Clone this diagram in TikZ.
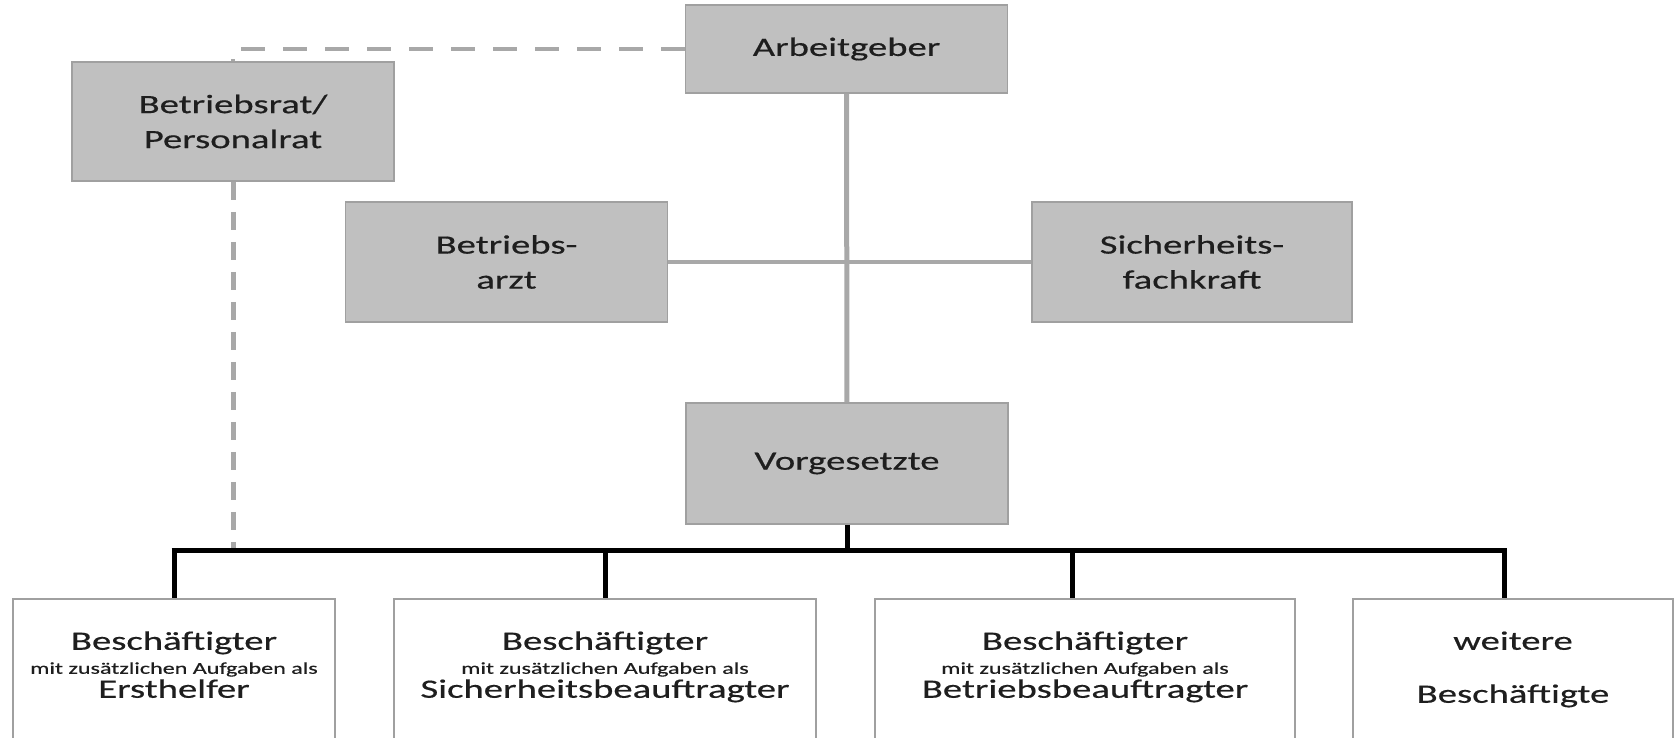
\documentclass[tikz,border=0pt]{standalone}
\usepackage{fontspec}
\setmainfont{Carlito}[FakeStretch=1.46,FakeBold=0.5]
\usepackage{tikz}
\usetikzlibrary{positioning}
\definecolor{boxgrey}{RGB}{192,192,192}
\definecolor{rimgrey}{RGB}{160,160,160}
\definecolor{linegrey}{RGB}{168,168,168}
\definecolor{txtgrey}{RGB}{30,30,30}
\newcommand{\klein}{\fontsize{16.5}{24}\selectfont}

\begin{document}
\begin{tikzpicture}[x=1pt,y=-1pt,font=\fontsize{26.5}{35}\selectfont,text=txtgrey,
  greybox/.style={draw=rimgrey,line width=1.5pt,fill=boxgrey,align=center,inner sep=0pt,minimum width=322pt},
  staff/.style={draw=rimgrey,line width=1.5pt,fill=white,align=center,inner sep=0pt,anchor=north,
    text height=99pt,text depth=60pt,font=\fontsize{26.5}{24}\selectfont},
  tree/.style={line width=5pt},
  link/.style={linegrey,line width=5pt},
  rep/.style={linegrey,line width=5pt,dash pattern=on 24pt off 18pt}]
  \clip (0,0) rectangle (1675,737);
  \node[greybox,minimum height=88pt] (arb) at (846.5,49) {Arbeitgeber};
  \node[greybox,minimum height=119pt] (rat) at (233,121.5) {Betriebsrat/\\Personalrat};
  \node[greybox,minimum height=120pt] (arzt) at (506.5,262) {Betriebs-\\arzt};
  \node[greybox,minimum height=120pt,minimum width=320pt] (sifa) at (1192,262) {Sicherheits-\\fachkraft};
  \node[greybox,minimum height=121pt] (vor) at (847,463.5) {Vorgesetzte};
  \node[staff,minimum width=322pt] (eh) at (174,598) {Beschäftigter\\{\klein mit zusätzlichen Aufgaben als}\\Ersthelfer};
  \node[staff,minimum width=422pt] (sib) at (605,598) {Beschäftigter\\{\klein mit zusätzlichen Aufgaben als}\\Sicherheitsbeauftragter};
  \node[staff,minimum width=420pt] (bb) at (1085,598) {Beschäftigter\\{\klein mit zusätzlichen Aufgaben als}\\Betriebsbeauftragter};
  \node[staff,minimum width=320pt,text height=104pt,font=\fontsize{26.5}{53}\selectfont] (wb) at (1513,598) {weitere\\Beschäftigte};
  \coordinate (b1) at (174,550);
  \coordinate (b2) at (605,550);
  \coordinate (b3) at (1072,550);
  \coordinate (b4) at (1504,550);
  \draw[link] (arb) -- (vor);
  \draw[link,line width=4pt] (arzt) -- (sifa);
  \draw[rep,line width=4pt] (arb.west) -| (rat.north);
  \draw[rep,dash pattern=on 18pt off 12pt] (rat.south) -- (rat.south |- b1);
  \draw[tree] (vor.south) -- (vor.south |- b1);
  \draw[tree] ([xshift=-2.5pt]b1) -- ([xshift=2.5pt]b4);
  \draw[tree] (b1) -- (b1 |- eh.north);
  \draw[tree] (b2) -- (b2 |- sib.north);
  \draw[tree] (b3) -- (b3 |- bb.north);
  \draw[tree] (b4) -- (b4 |- wb.north);
\end{tikzpicture}
\end{document}
